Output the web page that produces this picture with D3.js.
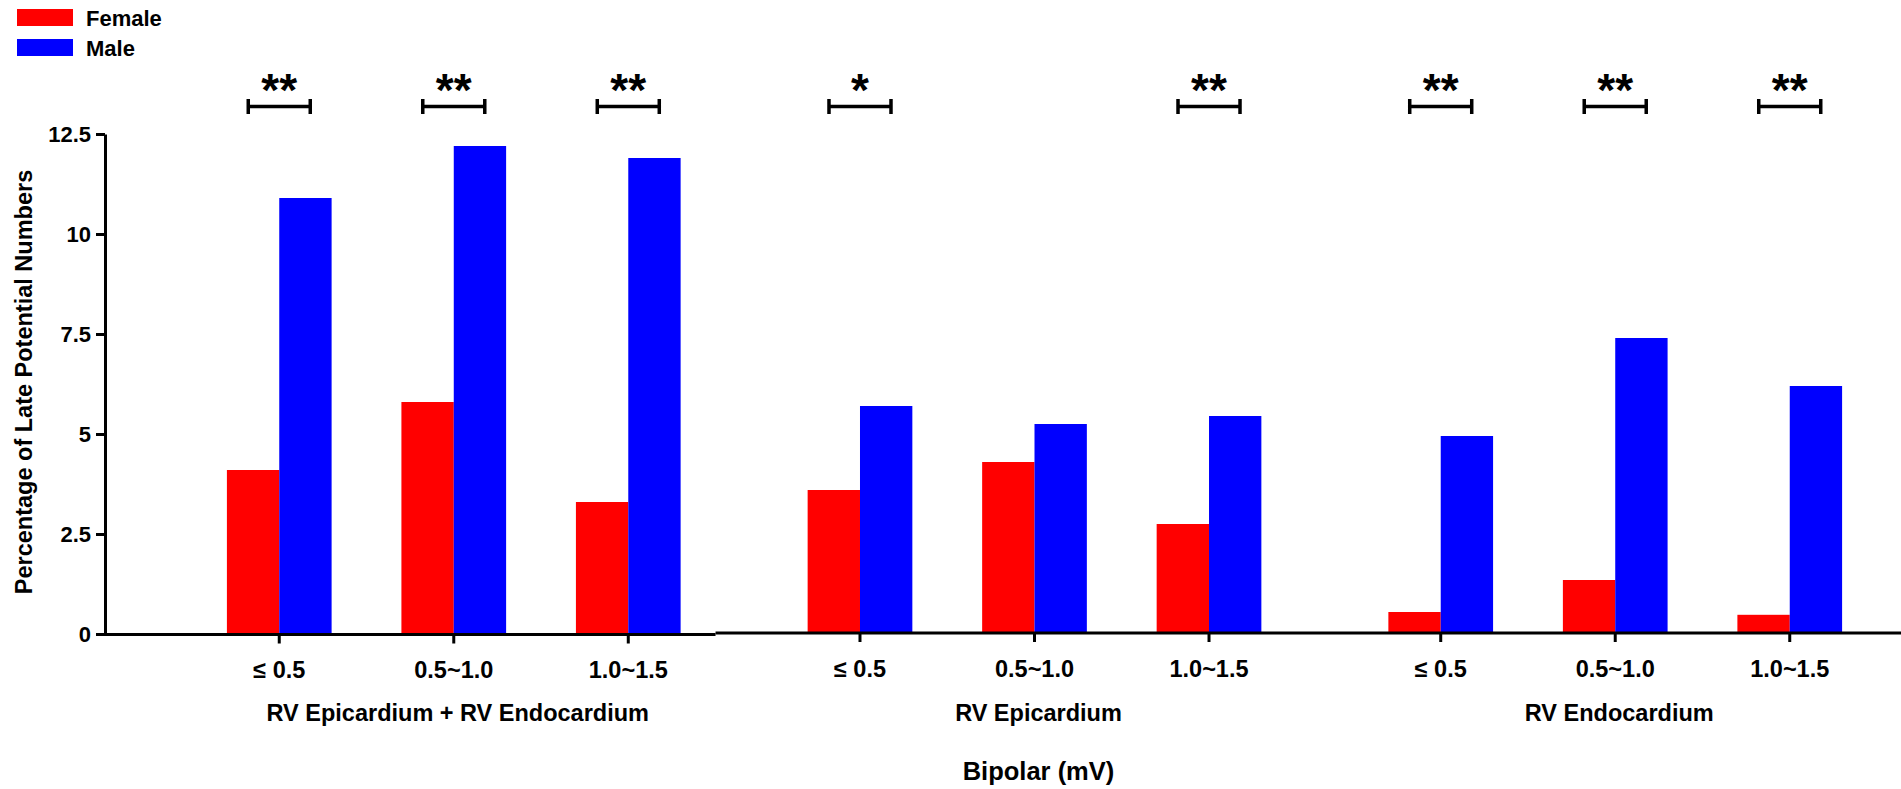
<!DOCTYPE html>
<html>
<head>
<meta charset="utf-8">
<script src="https://cdn.jsdelivr.net/npm/d3@7"></script>
<style>
  body { margin: 0; background: #fff; }
  svg { display: block; font-family: "Liberation Sans", Arial, sans-serif; }
  .axis text { font-weight: bold; fill: #000; }
  .y.axis text { font-size: 22px; }
  .x.axis text { font-size: 23.5px; }
</style>
</head>
<body>
<script>
// Daten
var groups = ["RV Epicardium + RV Endocardium", "RV Epicardium", "RV Endocardium"];
var categories = ["\u2264 0.5", "0.5~1.0", "1.0~1.5"];
var series = ["Female", "Male"];
var female = [4.1, 5.8, 3.3, 3.6, 4.3, 2.75, 0.55, 1.35, 0.48];
var male = [10.9, 12.2, 11.9, 5.7, 5.25, 5.45, 4.95, 7.4, 6.2];
var stars = ["**", "**", "**", "*", "", "**", "**", "**", "**"];
var yTicks = [0, 2.5, 5, 7.5, 10, 12.5];

var width = 1901, height = 789;
var colors = {Female: "#ff0000", Male: "#0000ff"};

var svg = d3.select("body").append("svg")
    .attr("width", width)
    .attr("height", height);

// Y Skala
var yScale = d3.scaleLinear()
    .domain([0, 12.5])
    .range([634, 134]);

// Gruppen -> Kategorien -> Geschlecht
var xGroup = d3.scaleBand()
    .domain(groups)
    .range([192, 1877])
    .paddingInner(0.0985);

var xCat = d3.scaleBand()
    .domain(categories)
    .range([0, xGroup.bandwidth()])
    .paddingInner(0.4)
    .paddingOuter(0.2);

var xSex = d3.scaleBand()
    .domain(series)
    .range([0, xCat.bandwidth()]);

// flache Liste der Balken
var rows = [];
groups.forEach((g, gi) => {
    categories.forEach((c, ci) => {
        var i = gi * categories.length + ci;
        rows.push({group: g, cat: c, Female: female[i], Male: male[i], star: stars[i]});
    });
});
function catCenter(d) { return xGroup(d.group) + xCat(d.cat) + xCat.bandwidth() / 2; }

// Balken
svg.selectAll(".bar")
    .data(rows.flatMap(r => series.map(s => ({row: r, s: s, v: r[s]}))))
    .enter()
    .append("rect")
    .attr("class", "bar")
    .attr("x", d => xGroup(d.row.group) + xCat(d.row.cat) + xSex(d.s))
    .attr("width", xSex.bandwidth())
    .attr("y", d => yScale(d.v))
    .attr("height", d => yScale(0) - yScale(d.v))
    .attr("fill", d => colors[d.s]);

// Y Achse
svg.append("g")
    .attr("class", "y axis")
    .attr("transform", "translate(105,0)")
    .call(d3.axisLeft(yScale).tickValues(yTicks).tickFormat(d => String(d)).tickSize(9).tickSizeOuter(0).tickPadding(5))
    .call(g => g.selectAll("line, path").attr("stroke", "#000").attr("stroke-width", 3));

// X Achsen (je Gruppe ein Abschnitt, wie im Original leicht versetzt)
groups.forEach((g, gi) => {
    var ax = svg.append("g")
        .attr("class", "x axis")
        .attr("transform", "translate(" + xGroup(g) + "," + (gi === 0 ? 634.5 : 633) + ")")
        .call(d3.axisBottom(xCat).tickSize(9).tickSizeOuter(0).tickPadding(18));
    ax.select(".domain").remove();
    ax.selectAll("line").attr("stroke", "#000").attr("stroke-width", 3);
});
var g1end = xGroup(groups[0]) + xGroup.bandwidth();
svg.append("line")
    .attr("x1", 104).attr("x2", g1end)
    .attr("y1", 634.5).attr("y2", 634.5)
    .attr("stroke", "#000").attr("stroke-width", 3);
svg.append("line")
    .attr("x1", g1end).attr("x2", width)
    .attr("y1", 633).attr("y2", 633)
    .attr("stroke", "#000").attr("stroke-width", 3);

// Gruppennamen
svg.selectAll(".grouplabel")
    .data(groups)
    .enter()
    .append("text")
    .attr("class", "grouplabel")
    .attr("x", d => xGroup(d) + xGroup.bandwidth() / 2 + 4)
    .attr("y", 721)
    .attr("text-anchor", "middle")
    .style("font-size", "23.5px")
    .style("font-weight", "bold")
    .text(d => d);

// X Achsen Titel
svg.append("text")
    .attr("x", xGroup(groups[1]) + xGroup.bandwidth() / 2 + 4)
    .attr("y", 780)
    .attr("text-anchor", "middle")
    .style("font-size", "25.5px")
    .style("font-weight", "bold")
    .text("Bipolar (mV)");

// Y Achsen Titel
svg.append("text")
    .attr("transform", "translate(32,382) rotate(-90)")
    .attr("text-anchor", "middle")
    .style("font-size", "23.5px")
    .style("font-weight", "bold")
    .text("Percentage of Late Potential Numbers");

// Signifikanz-Klammern
var sig = svg.selectAll(".sig")
    .data(rows.filter(r => r.star !== ""))
    .enter()
    .append("g")
    .attr("class", "sig")
    .attr("transform", d => "translate(" + catCenter(d) + ",0)");
sig.append("path")
    .attr("d", "M-31,99V114M-31,106.5H31M31,99V114")
    .attr("fill", "none")
    .attr("stroke", "#000")
    .attr("stroke-width", 3.5);
sig.append("text")
    .attr("y", 106)
    .attr("text-anchor", "middle")
    .style("font-size", "46px")
    .style("font-weight", "bold")
    .text(d => d.star);

// Legende
var leg = svg.selectAll(".legend")
    .data(series)
    .enter()
    .append("g")
    .attr("class", "legend")
    .attr("transform", (d, i) => "translate(17," + (9 + i * 30) + ")");
leg.append("rect")
    .attr("width", 56)
    .attr("height", 17)
    .attr("fill", d => colors[d]);
leg.append("text")
    .attr("x", 69)
    .attr("y", 17)
    .style("font-size", "22px")
    .style("font-weight", "bold")
    .text(d => d);
</script>
</body>
</html>
